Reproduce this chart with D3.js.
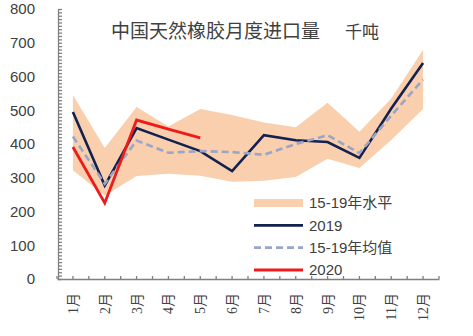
<!DOCTYPE html>
<html>
<head>
<meta charset="utf-8">
<script src="https://cdn.jsdelivr.net/npm/d3@7"></script>
<style>
  html, body { margin: 0; padding: 0; background: #fff; }
  svg { display: block; }
</style>
</head>
<body>
<svg id="chart" width="473" height="336"></svg>
<script>
// Monthly natural rubber imports into China, thousand tonnes
const months = ["1月","2月","3月","4月","5月","6月","7月","8月","9月","10月","11月","12月"];
const rangeHigh = [545, 388, 510, 452, 504, 486, 464, 450, 522, 436, 535, 679];
const rangeLow  = [322, 247, 305, 312, 306, 288, 291, 302, 356, 329, 412, 504];
const series2019 = [495, 277, 447, 413, 379, 320, 426, 411, 406, 359, 505, 640];
const seriesAvg  = [422, 282, 410, 374, 379, 376, 368, 400, 426, 373, 484, 591];
const series2020 = [391, 225, 471, 444, 418];
const yTicks = [0, 100, 200, 300, 400, 500, 600, 700, 800];
const legendLabels = ["15-19年水平", "2019", "15-19年均值", "2020"];

const colors = { band: "#f9cfae", y2019: "#12214f", avg: "#9aa5c7", y2020: "#ee1b1b", axis: "#808080", text: "#404040" };
const cjk = "'Noto Sans CJK SC', sans-serif";
const sans = "'Liberation Sans', Arial, 'Noto Sans CJK SC', sans-serif";
const serif = "'Liberation Serif', 'Times New Roman', 'Noto Sans CJK SC', serif";

const svg = d3.select("#chart");
const x = d3.scaleBand().domain(months).range([57, 439]);
const bw = x.bandwidth();
const cx = m => x(m) + bw / 2;
const y = d3.scaleLinear().domain([0, 800]).range([279, 9]);

// Range band 2015-2019
const area = d3.area()
  .x((d, i) => cx(months[i]))
  .y0((d, i) => y(rangeLow[i]))
  .y1(d => y(d));
svg.append("path").datum(rangeHigh).attr("d", area).attr("fill", colors.band);

const line = d3.line().x((d, i) => cx(months[i])).y(d => y(d));

svg.append("path").datum(series2019).attr("d", line)
  .attr("fill", "none").attr("stroke", colors.y2019).attr("stroke-width", 2.6).attr("stroke-linejoin", "miter");
svg.append("path").datum(seriesAvg).attr("d", line)
  .attr("fill", "none").attr("stroke", colors.avg).attr("stroke-width", 2.6).attr("stroke-dasharray", "7,4");
svg.append("path").datum(series2020).attr("d", line)
  .attr("fill", "none").attr("stroke", colors.y2020).attr("stroke-width", 2.8);

// Y axis: line with inward minor ticks every 10
const yAxis = svg.append("g").attr("transform", "translate(58,0)")
  .call(d3.axisRight(y).tickValues(d3.range(0, 801, 10)).tickSize(4).tickSizeOuter(0).tickFormat(""));
yAxis.selectAll("path, line").attr("stroke", colors.axis).attr("stroke-width", 1.3);

const yLabels = svg.append("g").attr("transform", "translate(58,0)")
  .call(d3.axisLeft(y).tickValues(yTicks).tickSize(0).tickPadding(23));
yLabels.select(".domain").remove();
yLabels.selectAll("text").attr("font-family", sans).attr("font-size", 15).attr("fill", colors.text);

// X axis: ticks at month centres and band boundaries
const xAxis = svg.append("g").attr("transform", "translate(0,279)")
  .call(d3.axisBottom(x).tickSize(-3).tickSizeOuter(0).tickFormat(""));
xAxis.selectAll("path, line").attr("stroke", colors.axis).attr("stroke-width", 1.3);
xAxis.selectAll("line.edge").data(months.concat(["end"])).enter().append("line")
  .attr("x1", d => d === "end" ? x.range()[1] : x(d))
  .attr("x2", d => d === "end" ? x.range()[1] : x(d))
  .attr("y1", 0).attr("y2", -3)
  .attr("stroke", colors.axis).attr("stroke-width", 1.3);

svg.append("g").selectAll("text").data(months).enter().append("text")
  .attr("transform", d => `translate(${cx(d) + 5},293) rotate(-90)`)
  .attr("text-anchor", "end")
  .attr("font-family", serif).attr("font-size", 14).attr("fill", colors.text)
  .text(d => d);

// Title
svg.append("text").attr("x", 111).attr("y", 38)
  .attr("font-family", cjk).attr("font-size", 19).attr("fill", colors.text)
  .text("中国天然橡胶月度进口量");
svg.append("text").attr("x", 345).attr("y", 38)
  .attr("font-family", cjk).attr("font-size", 17).attr("fill", colors.text)
  .text("千吨");

// Legend
const legY = d3.scalePoint().domain(legendLabels).range([203, 270]);
const leg = svg.append("g");
leg.append("rect").attr("x", 254).attr("y", legY(legendLabels[0]) - 4).attr("width", 49).attr("height", 8).attr("fill", colors.band);
const legStyles = [null,
  { c: colors.y2019, dash: null },
  { c: colors.avg, dash: "7,4" },
  { c: colors.y2020, dash: null }];
legendLabels.forEach((lab, i) => {
  if (legStyles[i]) {
    leg.append("line").attr("x1", 254).attr("x2", 303).attr("y1", legY(lab)).attr("y2", legY(lab))
      .attr("stroke", legStyles[i].c).attr("stroke-width", 2.8)
      .attr("stroke-dasharray", legStyles[i].dash);
  }
  leg.append("text").attr("x", 309).attr("y", legY(lab)).attr("dy", "0.36em")
    .attr("font-family", sans).attr("font-size", 15).attr("fill", colors.text)
    .text(lab);
});
</script>
</body>
</html>
